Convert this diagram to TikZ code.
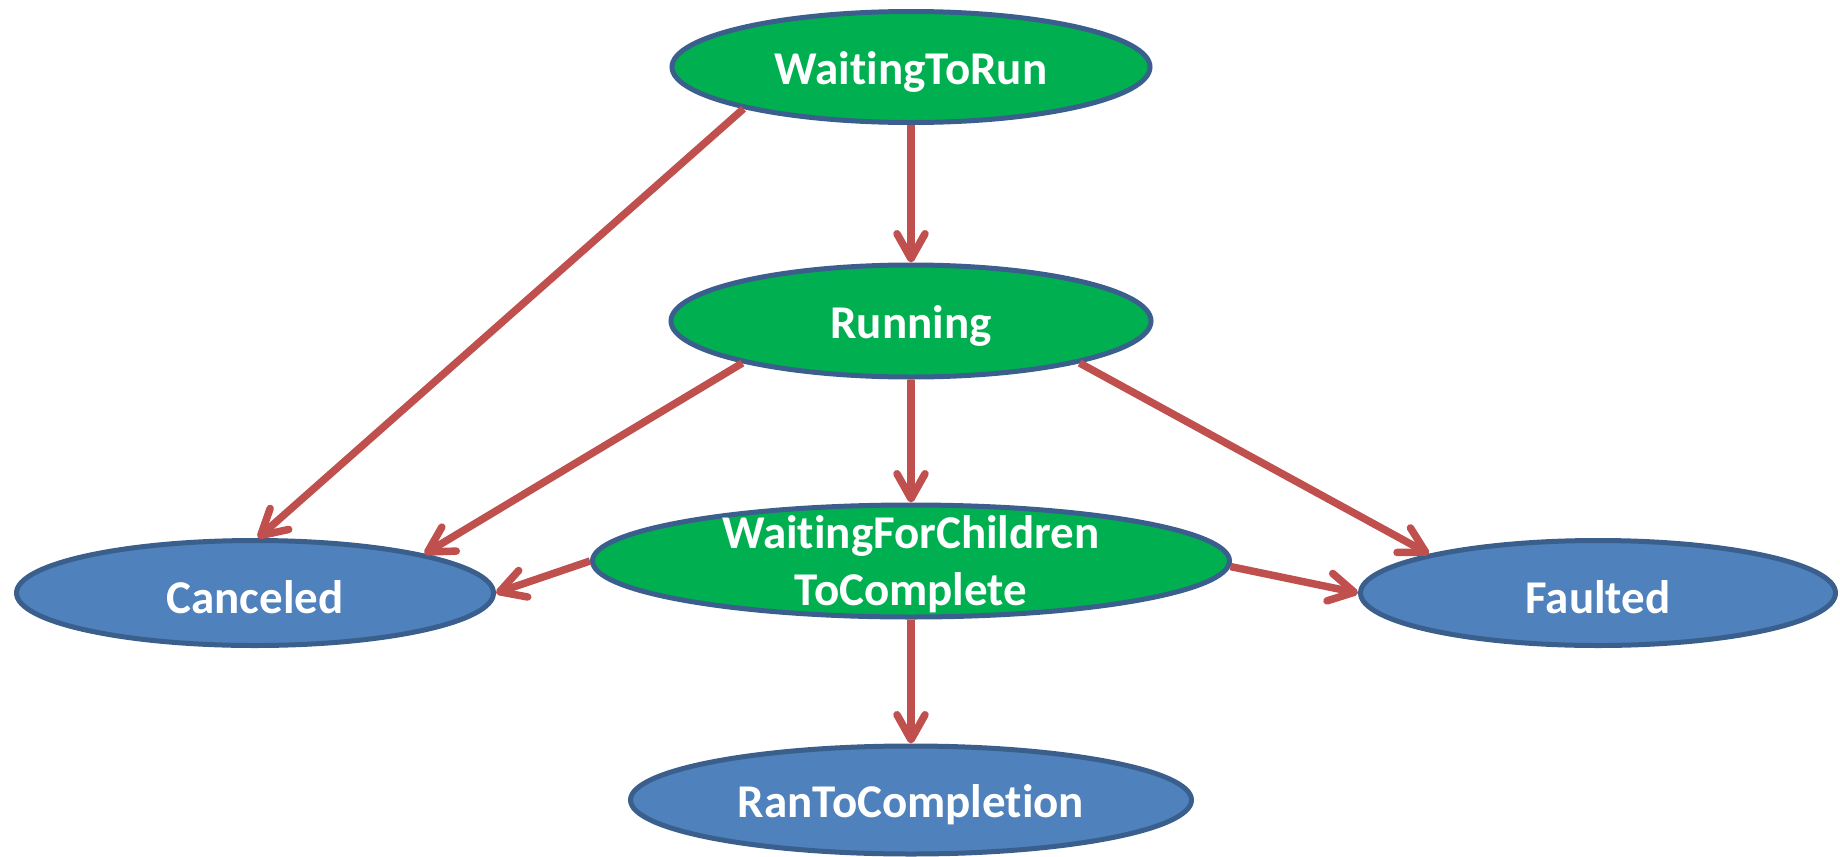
\documentclass[tikz,border=0pt]{standalone}
\usepackage{fontspec}
\setmainfont{Carlito}[Ligatures={NoCommon}]
\usetikzlibrary{shapes.geometric,arrows.meta}
\definecolor{stgreen}{HTML}{00B050}
\definecolor{stblue}{HTML}{4F81BD}
\definecolor{stborder}{HTML}{3A5F8C}
\definecolor{arrcol}{HTML}{C0504D}
\newcommand{\brk}{\kern0pt{}}
\tikzset{
  state/.style={ellipse, draw=stborder, line width=5pt, inner sep=0pt},
  gstate/.style={state, fill=stgreen},
  bstate/.style={state, fill=stblue},
  lbl/.style={text=white, font=\bfseries\fontsize{47pt}{57pt}\selectfont, align=center, inner sep=0pt},
  lblb/.style={lbl, anchor=base, yshift=-4.5pt},
  trans/.style={draw=arrcol, line width=7.5pt, -{Straight Barb[length=25pt,width=28pt,round]}}
}
\begin{document}
\begin{tikzpicture}[x=1pt,y=-1pt]
\useasboundingbox (0,0) rectangle (1840,857);
\node[gstate, minimum width=478pt, minimum height=111pt, label={[lblb,name=wtrl]center:Wait\brk ingToRun}] (wtr) at (911,67) {};
\node[gstate, minimum width=480pt, minimum height=112pt, label={[lblb,name=runl]center:Running}] (run) at (911,321) {};
\node[gstate, minimum width=637pt, minimum height=112pt, label={[lbl,name=wfcl,yshift=-3pt]center:Wait\brk ingForChildren\\ToComplete}] (wfc) at (911,561) {};
\node[bstate, minimum width=477pt, minimum height=105pt, label={[lblb,name=canl]center:Canceled}] (can) at (255,593) {};
\node[bstate, minimum width=475pt, minimum height=105pt, label={[lblb,name=fltl]center:Faulted}] (flt) at (1598,593) {};
\node[bstate, minimum width=561pt, minimum height=108pt, label={[lblb,name=rtcl]center:RanToComplet\brk ion}] (rtc) at (911,800) {};
\draw[trans] (wtr.south) -- (run.north);
\draw[trans] (wtr.194) -- (can.87);
\draw[trans] (run.194) -- (can.13);
\draw[trans] (run.south) -- (wfc.north);
\draw[trans] (run.346) -- (flt.167);
\draw[trans] (wfc.180) -- (can.0);
\draw[trans] (wfc.359) -- (flt.180);
\draw[trans] (wfc.south) -- (rtc.north);
\end{tikzpicture}
\end{document}
